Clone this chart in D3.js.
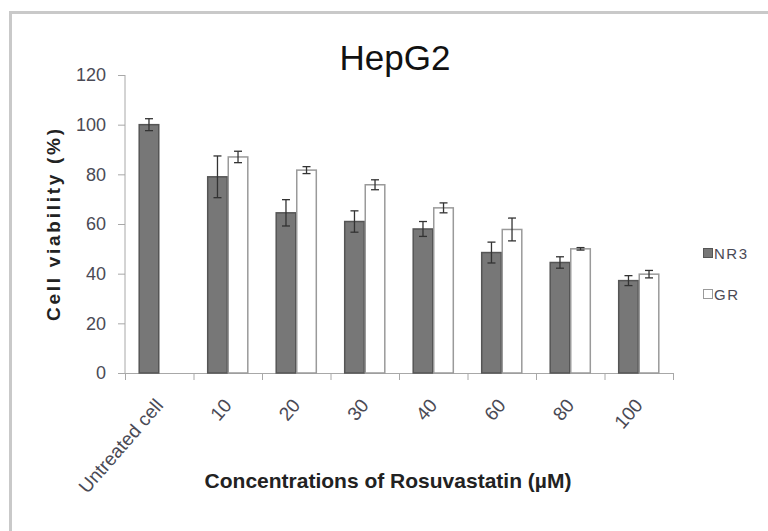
<!DOCTYPE html>
<html>
<head>
<meta charset="utf-8">
<script src="https://cdn.jsdelivr.net/npm/d3@7"></script>
<style>
  body { margin: 0; background: #fff; }
  svg { display: block; }
</style>
</head>
<body>
<svg id="chart" width="768" height="531"></svg>
<script>
// values
const categories = ["Untreated cell", "10", "20", "30", "40", "60", "80", "100"];
const seriesNames = ["NR3", "GR"];
const nr3Values = [100, 79, 64.5, 61, 58, 48.5, 44.5, 37.2];
const nr3Errors = [2.4, 8.4, 5.3, 4.3, 3, 4.2, 2.3, 2];
const grValues = [null, 87, 81.7, 75.8, 66.5, 57.8, 50, 39.8];
const grErrors = [null, 2.3, 1.4, 2, 2, 4.6, 0.5, 1.5];
const yTicks = [0, 20, 40, 60, 80, 100, 120];

let svg = d3.select("#chart");

// outer frame (only top and left edges show)
svg.append("line").attr("x1", 9).attr("x2", 768).attr("y1", 12.5).attr("y2", 12.5)
    .attr("stroke", "#c9c9c9").attr("stroke-width", 3);
svg.append("line").attr("x1", 10.5).attr("x2", 10.5).attr("y1", 11).attr("y2", 531)
    .attr("stroke", "#c9c9c9").attr("stroke-width", 3);

const plotLeft = 125, plotRight = 673, plotTop = 75, plotBottom = 373;

let y = d3.scaleLinear().domain([0, 120]).range([plotBottom, plotTop]);
let x0 = d3.scaleBand().domain(categories).range([plotLeft, plotRight])
    .paddingInner(0.4).paddingOuter(0.2);
let x1 = d3.scaleBand().domain(seriesNames).range([0, x0.bandwidth()]);

// y axis
let yAxis = d3.axisLeft(y).tickValues(yTicks).tickSize(7).tickPadding(12);
let gy = svg.append("g").attr("transform", `translate(${plotLeft},0)`).call(yAxis);
gy.select(".domain").attr("stroke", "#a8a8a8").attr("d", `M0,${plotTop}V${plotBottom}`);
gy.selectAll(".tick line").attr("stroke", "#a8a8a8");
gy.selectAll(".tick text").attr("font-family", "Liberation Sans, Arial, sans-serif")
    .attr("font-size", 18).attr("fill", "#4a4a55");

// x axis baseline and ticks at category boundaries
svg.append("line").attr("x1", plotLeft).attr("x2", plotRight)
    .attr("y1", plotBottom + 0.5).attr("y2", plotBottom + 0.5)
    .attr("stroke", "#a8a8a8");
let step = x0.step();
let boundaries = categories.map(c => x0(c) - step * 0.2).concat([plotRight]);
svg.append("g").selectAll("line").data(boundaries).enter().append("line")
    .attr("x1", d => d + 0.5).attr("x2", d => d + 0.5)
    .attr("y1", plotBottom).attr("y2", plotBottom + 7)
    .attr("stroke", "#a8a8a8");

// x tick labels, rotated
svg.append("g").selectAll("text").data(categories).enter().append("text")
    .attr("transform", d => `translate(${x0(d) + x0.bandwidth() / 2 + 5},${plotBottom + 33}) rotate(-49)`)
    .attr("text-anchor", "end")
    .attr("font-family", "Liberation Sans, Arial, sans-serif")
    .attr("font-size", 19)
    .attr("fill", "#4a4a55")
    .text(d => d);

// bars
let rows = categories.map((c, i) => ({
    cat: c,
    items: [
        {name: "NR3", value: nr3Values[i], err: nr3Errors[i]},
        {name: "GR", value: grValues[i], err: grErrors[i]}
    ].filter(d => d.value !== null)
}));

let groups = svg.append("g").selectAll("g").data(rows).enter().append("g")
    .attr("transform", d => `translate(${x0(d.cat)},0)`);

groups.selectAll("rect").data(d => d.items).enter().append("rect")
    .attr("x", d => x1(d.name) + 0.5)
    .attr("y", d => y(d.value))
    .attr("width", x1.bandwidth() - 1)
    .attr("height", d => plotBottom - y(d.value))
    .attr("fill", d => d.name === "NR3" ? "#777777" : "#ffffff")
    .attr("stroke", d => d.name === "NR3" ? "#555555" : "#9a9a9a")
    .attr("stroke-width", 1.5);

// error bars
let errs = groups.selectAll("g.err").data(d => d.items).enter().append("g").attr("class", "err");
errs.append("line")
    .attr("x1", d => x1(d.name) + x1.bandwidth() / 2)
    .attr("x2", d => x1(d.name) + x1.bandwidth() / 2)
    .attr("y1", d => y(d.value + d.err))
    .attr("y2", d => y(d.value - d.err))
    .attr("stroke", "#333").attr("stroke-width", 1.3);
errs.selectAll("line.cap").data(d => [d.value + d.err, d.value - d.err].map(v => ({name: d.name, v: v})))
    .enter().append("line").attr("class", "cap")
    .attr("x1", d => x1(d.name) + x1.bandwidth() / 2 - 4)
    .attr("x2", d => x1(d.name) + x1.bandwidth() / 2 + 4)
    .attr("y1", d => y(d.v)).attr("y2", d => y(d.v))
    .attr("stroke", "#333").attr("stroke-width", 1.3);

// titles
svg.append("text").attr("x", 395).attr("y", 70).attr("text-anchor", "middle")
    .attr("font-family", "Liberation Sans, Arial, sans-serif").attr("font-size", 35)
    .attr("fill", "#111").text("HepG2");

svg.append("text")
    .attr("transform", "translate(60,225) rotate(-90)")
    .attr("text-anchor", "middle")
    .attr("font-family", "Liberation Sans, Arial, sans-serif").attr("font-size", 19)
    .attr("font-weight", "bold").attr("fill", "#222")
    .attr("textLength", 192).attr("lengthAdjust", "spacing")
    .text("Cell viability (%)");

svg.append("text").attr("x", 388).attr("y", 488).attr("text-anchor", "middle")
    .attr("font-family", "Liberation Sans, Arial, sans-serif").attr("font-size", 21)
    .attr("font-weight", "bold").attr("fill", "#222")
    .text("Concentrations of Rosuvastatin (\u00b5M)");

// legend
let legend = svg.append("g").selectAll("g").data(seriesNames).enter().append("g")
    .attr("transform", (d, i) => `translate(703,${248 + i * 41})`);
legend.append("rect").attr("x", 0.5).attr("y", 0.5).attr("width", 9).attr("height", 9)
    .attr("fill", d => d === "NR3" ? "#777777" : "#ffffff")
    .attr("stroke", d => d === "NR3" ? "#555555" : "#9a9a9a");
legend.append("text").attr("x", 11).attr("y", 10.5)
    .attr("font-family", "Liberation Sans, sans-serif").attr("font-size", 15)
    .attr("letter-spacing", 1.5)
    .attr("fill", "#4a4a55").text(d => d);
</script>
</body>
</html>
